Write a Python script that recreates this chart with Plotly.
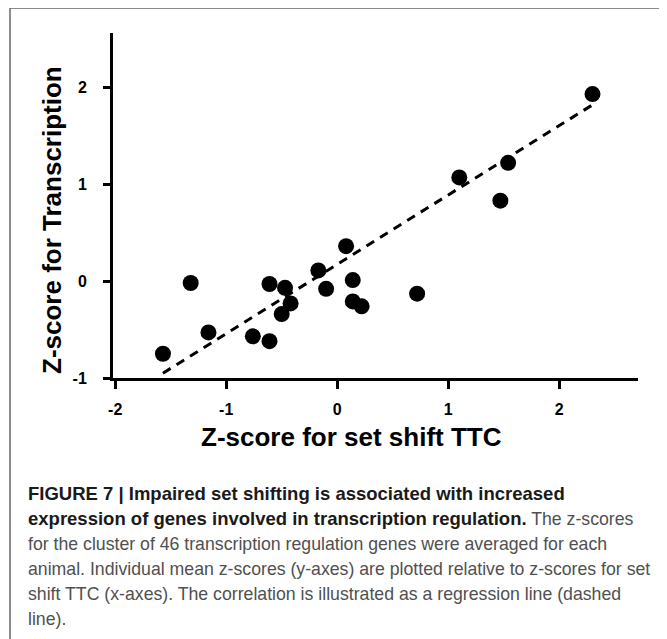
import plotly.graph_objects as go

# ---- data ----
set_shift_ttc = [-1.57, -1.32, -1.16, -0.76, -0.61, -0.61, -0.47, -0.42, -0.50, -0.17,
                 -0.10, 0.08, 0.14, 0.14, 0.22, 0.72, 1.10, 1.54, 1.47, 2.30]
transcription_z = [-0.75, -0.02, -0.53, -0.57, -0.62, -0.03, -0.07, -0.23, -0.34, 0.11,
                   -0.08, 0.36, 0.01, -0.21, -0.26, -0.13, 1.07, 1.22, 0.83, 1.93]
fit_x = [-1.57, 2.33]
fit_y = [-0.95, 1.84]
x_ticks = [-2, -1, 0, 1, 2]
y_ticks = [-1, 0, 1, 2]

BOLD = "<span style='color:#1a1a1a;font-size:18.5px'><b>{}</b></span>"
caption_lines = [
    BOLD.format("FIGURE 7 | Impaired set shifting is associated with increased"),
    BOLD.format("expression of genes involved in transcription regulation.") + " The z-scores",
    "for the cluster of 46 transcription regulation genes were averaged for each",
    "animal. Individual mean z-scores (y-axes) are plotted relative to z-scores for set",
    "shift TTC (x-axes). The correlation is illustrated as a regression line (dashed",
    "line).",
]

# page has an 8px body margin: figure is placed at (8, 8) in the window
OFF = 8
WIN_W, WIN_H = 667, 639
W, H = WIN_W - OFF, WIN_H - OFF
L, R, T, B = 113, 638, 33, 378  # plot area in window pixels


def px(x):
    return (x - L) / (R - L)


def py(y):
    return (B - y) / (B - T)


fig = go.Figure()
fig.add_trace(go.Scatter(x=fit_x, y=fit_y, mode="lines",
                         line=dict(color="black", width=3, dash="9px,7px"),
                         hoverinfo="skip", showlegend=False))
fig.add_trace(go.Scatter(x=set_shift_ttc, y=transcription_z, mode="markers",
                         marker=dict(color="black", size=16),
                         showlegend=False))

tickfont = dict(family="Liberation Sans, Arial, sans-serif", size=16, color="black", weight="bold")
fig.update_xaxes(range=[-2.02, 2.71], tickvals=x_ticks, ticktext=[str(v) for v in x_ticks],
                 showline=True, linewidth=3, linecolor="black", ticks="outside",
                 ticklen=8, tickwidth=3, tickcolor="black", showgrid=False, zeroline=False,
                 tickfont=tickfont, ticklabelstandoff=7)
fig.update_yaxes(range=[-1.0, 2.56], tickvals=y_ticks, ticktext=[str(v) for v in y_ticks],
                 showline=True, linewidth=3, linecolor="black", ticks="outside",
                 ticklen=7, tickwidth=3, tickcolor="black", showgrid=False, zeroline=False,
                 tickfont=tickfont, ticklabelstandoff=13)

title_font = dict(family="Liberation Sans, Arial, sans-serif", size=26, color="black")
annotations = [
    dict(text="<b>Z-score for set shift TTC</b>", x=px(351), y=py(437),
         xref="paper", yref="paper", showarrow=False, xanchor="center", yanchor="middle",
         font=title_font),
    dict(text="<b>Z-score for Transcription</b>", x=px(52), y=py(220), textangle=-90,
         xref="paper", yref="paper", showarrow=False, xanchor="center", yanchor="middle",
         font=title_font),
]
line_y = [493, 518, 544, 569, 594, 619]
for text, yy in zip(caption_lines, line_y):
    annotations.append(dict(text=text, x=px(26), y=py(yy), xref="paper", yref="paper",
                            showarrow=False, xanchor="left", yanchor="middle",
                            font=dict(family="Liberation Sans, Arial, sans-serif",
                                      size=17.7, color="#505050")))

fig.update_layout(
    width=W, height=H,
    margin=dict(l=L - OFF, r=WIN_W - R, t=T - OFF, b=WIN_H - B, pad=0),
    paper_bgcolor="white", plot_bgcolor="white",
    annotations=annotations,
    shapes=[dict(type="rect", xref="paper", yref="paper",
                 x0=px(10), x1=px(665), y0=py(660), y1=py(8),
                 line=dict(color="#666666", width=1.5), fillcolor="rgba(0,0,0,0)", layer="below")],
)

fig.write_html("out.html")
